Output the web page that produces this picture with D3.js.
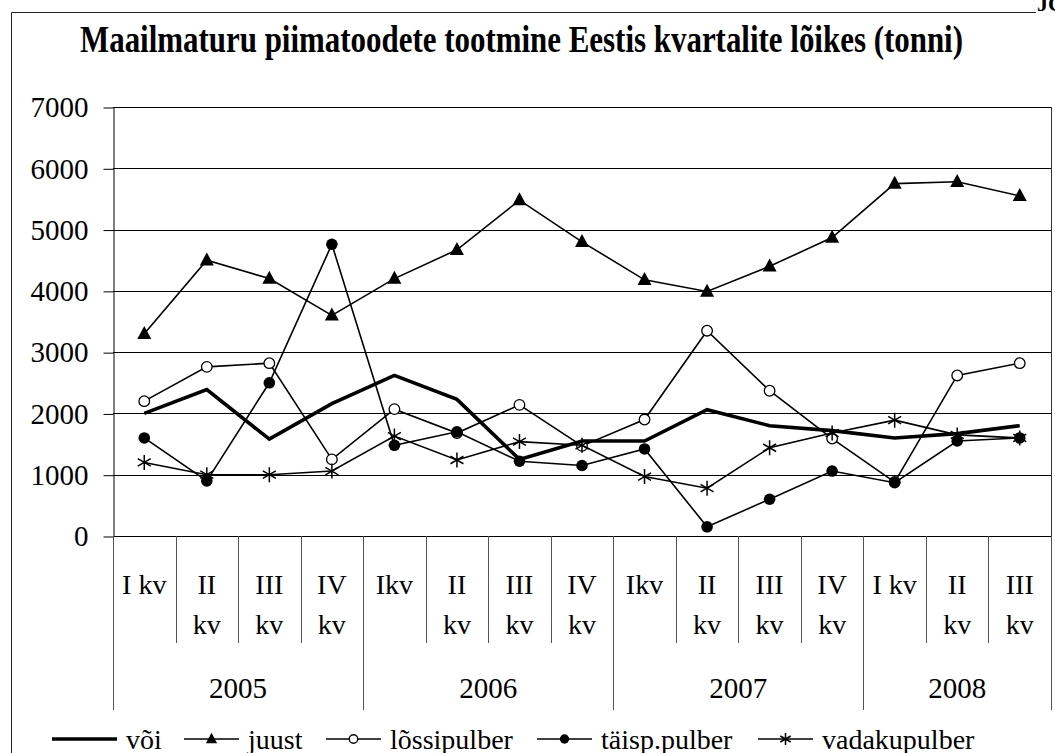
<!DOCTYPE html>
<html>
<head>
<meta charset="utf-8">
<script src="https://cdn.jsdelivr.net/npm/d3@7"></script>
<style>
  html, body { margin: 0; padding: 0; background: #fff; }
  svg { display: block; }
  svg text { font-family: "Liberation Serif", "Times New Roman", Times, serif !important; fill: #000; }
</style>
</head>
<body>
<svg id="chart" width="1055" height="753"></svg>
<script>
// ---------- data ----------
const years = ["2005", "2006", "2007", "2008"];
const quarterLabels = [
  "I kv", "II\nkv", "III\nkv", "IV\nkv",
  "Ikv", "II\nkv", "III\nkv", "IV\nkv",
  "Ikv", "II\nkv", "III\nkv", "IV\nkv",
  "I kv", "II\nkv", "III\nkv"
];
const quartersPerYear = [4, 4, 4, 3];
const yTicks = [0, 1000, 2000, 3000, 4000, 5000, 6000, 7000];

const voi          = [2000, 2390, 1580, 2160, 2620, 2230, 1250, 1550, 1550, 2060, 1800, 1720, 1600, 1670, 1800];
const juust        = [3300, 4500, 4200, 3600, 4200, 4670, 5480, 4800, 4180, 3990, 4400, 4870, 5750, 5780, 5550];
const lossipulber  = [2200, 2760, 2820, 1250, 2070, 1680, 2140, 1470, 1900, 3350, 2370, 1590, 880, 2620, 2820];
const taisppulber  = [1600, 900, 2500, 4760, 1480, 1700, 1220, 1150, 1420, 150, 600, 1060, 870, 1550, 1600];
const vadakupulber = [1200, 1000, 1000, 1060, 1630, 1240, 1540, 1480, 970, 780, 1440, 1680, 1890, 1650, 1600];

const seriesNames = ["või", "juust", "lõssipulber", "täisp.pulber", "vadakupulber"];
const seriesValues = [voi, juust, lossipulber, taisppulber, vadakupulber];
const seriesMarkers = ["none", "triangle", "openCircle", "filledCircle", "asterisk"];

const FONT = "'Liberation Serif', 'Times New Roman', Times, serif";

// ---------- layout ----------
const svg = d3.select("#chart");
const plotL = 113, plotR = 1051, plotT = 107, plotB = 536;

const x = d3.scaleBand().domain(d3.range(quarterLabels.length)).range([plotL, plotR]).padding(0);
const y = d3.scaleLinear().domain([0, 7000]).range([plotB, plotT]);
const cx = i => x(i) + x.bandwidth() / 2;

// outer border
svg.append("path")
  .attr("d", `M11.5,${760} V12.5 H1036`)
  .attr("fill", "none").attr("stroke", "#222").attr("stroke-width", 1);
svg.append("text").attr("x", 1037).attr("y", 11)
  .attr("font-size", 22).attr("font-weight", "bold").text("JC");

// title
svg.append("text")
  .attr("x", 80).attr("y", 52)
  .attr("font-size", 37).attr("font-weight", "bold")
  .attr("textLength", 883).attr("lengthAdjust", "spacingAndGlyphs")
  .text("Maailmaturu piimatoodete tootmine Eestis kvartalite lõikes (tonni)");

// gridlines
svg.append("g").selectAll("line").data(yTicks).join("line")
  .attr("x1", plotL).attr("x2", plotR)
  .attr("y1", d => Math.round(y(d)) + 0.5).attr("y2", d => Math.round(y(d)) + 0.5)
  .attr("stroke", "#000").attr("stroke-width", 1);

// y axis
const yAxis = svg.append("g").attr("transform", `translate(${plotL + 0.5},0.5)`)
  .call(d3.axisLeft(y).tickValues(yTicks).tickFormat(d3.format("d"))
    .tickSizeInner(10).tickSizeOuter(0).tickPadding(15));
yAxis.attr("font-family", FONT).attr("font-size", 29);
yAxis.select(".domain").attr("stroke", "#000");
yAxis.selectAll(".tick line").attr("stroke", "#000");
yAxis.selectAll(".tick text").style("font-family", FONT).style("font-size", "29px").attr("fill", "#000");

// right border of plot area
svg.append("line").attr("x1", plotR + 0.5).attr("x2", plotR + 0.5)
  .attr("y1", plotT).attr("y2", 710).attr("stroke", "#333");

// category separators
const bounds = d3.range(quarterLabels.length + 1);
let yearStarts = [0];
quartersPerYear.forEach((n, i) => yearStarts.push(yearStarts[i] + n));
svg.append("g").selectAll("line").data(bounds).join("line")
  .attr("x1", i => Math.round(plotL + i * x.bandwidth()) + 0.5)
  .attr("x2", i => Math.round(plotL + i * x.bandwidth()) + 0.5)
  .attr("y1", plotB)
  .attr("y2", i => yearStarts.includes(i) ? 710 : 643)
  .attr("stroke", "#555").attr("stroke-width", 1);

// quarter labels
const ql = svg.append("g");
quarterLabels.forEach((lab, i) => {
  const lines = lab.split("\n");
  lines.forEach((ln, j) => {
    ql.append("text").attr("x", cx(i)).attr("y", 594 + j * 40)
      .attr("text-anchor", "middle").attr("font-size", 28).text(ln);
  });
});

// year labels
years.forEach((yr, k) => {
  const a = plotL + yearStarts[k] * x.bandwidth();
  const b = plotL + yearStarts[k + 1] * x.bandwidth();
  svg.append("text").attr("x", (a + b) / 2).attr("y", 698)
    .attr("text-anchor", "middle").attr("font-size", 29).text(yr);
});

// markers
function drawMarker(g, type, px, py, s) {
  s = s || 1;
  if (type === "triangle") {
    const w = 14 * s, h = 13 * s;
    g.append("path")
      .attr("d", `M${px},${py - h * 0.6} L${px + w / 2},${py + h * 0.4} L${px - w / 2},${py + h * 0.4} Z`)
      .attr("fill", "#000");
  } else if (type === "openCircle") {
    g.append("circle").attr("cx", px).attr("cy", py).attr("r", 5.3 * s)
      .attr("fill", "#fff").attr("stroke", "#000").attr("stroke-width", 1.3);
  } else if (type === "filledCircle") {
    g.append("circle").attr("cx", px).attr("cy", py).attr("r", 5.8 * s).attr("fill", "#000");
  } else if (type === "asterisk") {
    const r = 7.5 * s;
    const d = [0, 60, 120].map(a => {
      const rad = a * Math.PI / 180 + Math.PI / 2;
      const dx = r * Math.cos(rad), dy = r * Math.sin(rad);
      return `M${px - dx},${py - dy} L${px + dx},${py + dy}`;
    }).join(" ");
    g.append("path").attr("d", d)
      .attr("stroke", "#000").attr("stroke-width", 1.5).attr("fill", "none");
  }
}

const line = d3.line().x((d, i) => cx(i)).y(d => y(d));
// draw thin series first, then või on top
const order = [1, 2, 3, 4, 0];
order.forEach(si => {
  const g = svg.append("g");
  g.append("path").datum(seriesValues[si]).attr("d", line)
    .attr("fill", "none").attr("stroke", "#000")
    .attr("stroke-width", si === 0 ? 3.6 : 1.6)
    .attr("stroke-linejoin", "miter");
  if (seriesMarkers[si] !== "none") {
    seriesValues[si].forEach((v, i) => drawMarker(g, seriesMarkers[si], cx(i), y(v)));
  }
});

// legend
const legY = 739;
const leg = svg.append("g");
const legStarts = [52, 184, 326, 537, 758];
seriesNames.forEach((name, si) => {
  const x0 = legStarts[si];
  const len = si === 0 ? 65 : 55;
  leg.append("line").attr("x1", x0).attr("x2", x0 + len).attr("y1", legY).attr("y2", legY)
    .attr("stroke", "#000").attr("stroke-width", si === 0 ? 3.6 : 1.6);
  if (seriesMarkers[si] !== "none") drawMarker(leg, seriesMarkers[si], x0 + len / 2, legY, 0.8);
  leg.append("text").attr("x", x0 + len + 9).attr("y", 749).attr("font-size", 28).text(name);
});
</script>
</body>
</html>
